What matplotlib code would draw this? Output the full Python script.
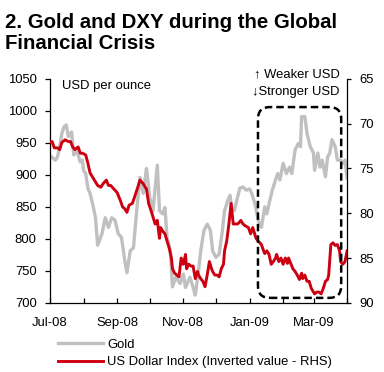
import matplotlib
matplotlib.use("Agg")
import matplotlib.pyplot as plt
import matplotlib.dates as mdates
from matplotlib.patches import FancyBboxPatch
import pandas as pd

plt.rcParams['font.family'] = ['Liberation Sans', 'DejaVu Sans']

start = pd.Timestamp('2008-07-01')

# Gold, USD per ounce (days since 1 Jul 2008, price)
gold_day = [0, 5, 7, 9, 11, 13, 15, 17, 18, 20, 22, 24, 26, 28, 30, 31, 33, 35, 37, 40,
            42, 44, 48, 51, 54, 57, 60, 63, 66, 69, 71, 74, 77, 80, 83, 86, 88, 89, 92, 95,
            99, 101, 104, 106, 108, 111, 113, 116, 120, 123, 125, 129, 132, 134, 137, 139,
            142, 145, 148, 150, 153, 156, 159, 161, 164, 166, 168, 170, 173, 175, 178, 181,
            184, 186, 189, 192, 195, 197, 198, 200, 202, 205, 208, 210, 212, 215, 218, 221,
            223, 226, 229, 231, 232, 235, 237, 240, 243, 244, 247, 249, 251, 254, 256, 258,
            260, 263, 265, 268, 270, 272, 274]
gold_px = [930, 923, 928, 944, 965, 975, 978, 960, 962, 967, 931, 939, 931, 920, 923, 907,
           902, 879, 871, 850, 833, 790, 808, 833, 818, 833, 829, 808, 802, 766, 747, 781,
           786, 844, 896, 871, 896, 910, 865, 844, 915, 844, 839, 849, 802, 781, 725, 740,
           730, 745, 724, 740, 724, 712, 750, 781, 813, 823, 813, 781, 771, 776, 813, 844,
           860, 868, 844, 844, 865, 879, 881, 876, 878, 871, 855, 829, 818, 839, 850, 839,
           855, 876, 892, 902, 892, 918, 902, 912, 902, 939, 949, 944, 991, 991, 965, 944,
           934, 907, 934, 912, 923, 897, 928, 934, 955, 944, 923, 923, 918, 923, 895]

# US Dollar Index, plotted on an inverted right axis
usd_day = [0, 2, 4, 7, 9, 11, 14, 17, 19, 21, 23, 26, 28, 30, 33, 35, 37, 40, 42, 44, 47,
           49, 52, 54, 56, 59, 62, 65, 67, 69, 71, 73, 76, 78, 81, 83, 86, 89, 91, 94, 97,
           99, 101, 102, 104, 106, 108, 110, 112, 113, 115, 117, 119, 121, 123, 125, 126,
           128, 130, 132, 134, 136, 137, 139, 141, 143, 145, 147, 149, 150, 152, 154, 156,
           158, 160, 161, 163, 165, 167, 169, 171, 173, 174, 176, 178, 180, 183, 185, 187,
           190, 192, 195, 197, 198, 200, 202, 204, 206, 208, 209, 211, 213, 215, 217, 219,
           220, 222, 224, 226, 228, 230, 232, 233, 235, 237, 239, 241, 243, 244, 246, 248,
           250, 252, 254, 256, 257, 259, 261, 263, 265, 267, 268, 270, 272, 274]
usd_idx = [72.1, 72.0, 72.7, 72.7, 72.9, 72.1, 71.8, 72.0, 72.0, 72.6, 72.9, 72.6, 73.3,
           73.3, 73.5, 74.4, 75.5, 76.1, 76.5, 76.9, 77.1, 76.7, 76.3, 76.9, 76.9, 77.3,
           77.7, 78.6, 79.3, 79.5, 79.9, 79.1, 78.9, 78.2, 77.1, 76.3, 76.7, 77.3, 78.9,
           80.0, 81.2, 80.8, 82.8, 81.6, 82.0, 82.3, 83.1, 83.9, 85.0, 86.2, 86.7, 86.9,
           87.1, 85.0, 85.7, 84.6, 86.2, 85.7, 85.9, 85.9, 87.3, 86.5, 86.9, 87.3, 87.6,
           88.2, 86.9, 85.4, 86.2, 86.5, 86.9, 86.9, 87.1, 86.2, 85.7, 84.2, 83.1, 81.2,
           78.9, 81.2, 81.2, 81.2, 81.1, 80.8, 81.2, 81.4, 81.6, 82.3, 81.6, 82.8, 83.1,
           83.5, 84.2, 84.5, 84.2, 84.6, 85.7, 85.4, 85.0, 84.6, 85.4, 85.0, 85.7, 85.0,
           85.6, 85.0, 85.6, 86.2, 86.5, 86.9, 87.4, 86.7, 87.3, 86.9, 87.6, 87.6, 88.4,
           88.8, 89.0, 88.8, 88.8, 89.0, 88.4, 87.6, 87.4, 86.9, 83.5, 83.3, 83.6, 83.5,
           84.2, 85.4, 85.7, 85.4, 84.2]

gold_dates = start + pd.to_timedelta(gold_day, unit='D')
usd_dates = start + pd.to_timedelta(usd_day, unit='D')

fs = 9.4
fig = plt.figure(figsize=(3.84, 3.72), dpi=100)
ax = fig.add_axes([0.130, 0.186, 0.774, 0.602])
ax2 = ax.twinx()

gold_line, = ax.plot(gold_dates, gold_px, color='#c0c0c0', lw=2.4, label='Gold')
usd_line, = ax2.plot(usd_dates, usd_idx, color='#cc0011', lw=2.1,
                     label='US Dollar Index (Inverted value - RHS)')

ax.set_ylim(700, 1050)
ax.set_yticks(range(700, 1051, 50))
ax2.set_ylim(90, 65)
ax2.set_yticks(range(65, 91, 5))
ax.set_xlim(pd.Timestamp('2008-07-01'), pd.Timestamp('2009-04-01'))

# monthly ticks, label every other month
ax.xaxis.set_major_locator(mdates.MonthLocator())
def month_fmt(x, pos):
    d = mdates.num2date(x)
    return d.strftime('%b-%y') if d.month % 2 == 1 else ''
ax.xaxis.set_major_formatter(plt.FuncFormatter(month_fmt))

for a in (ax, ax2):
    a.spines['top'].set_visible(False)
    for s in a.spines.values():
        s.set_linewidth(0.9)
ax.spines['right'].set_visible(False)
ax2.spines['left'].set_visible(False)
ax2.spines['bottom'].set_visible(False)

ax.tick_params(axis='y', direction='out', length=3.5, width=0.9, pad=6, labelsize=fs)
ax.tick_params(axis='x', direction='in', length=3.5, width=0.9, pad=10.5, labelsize=fs)
ax2.tick_params(axis='y', direction='out', length=3, width=0.9, pad=6, labelsize=fs)

ax.text(0.04, 0.968, 'USD per ounce', transform=ax.transAxes, fontsize=fs,
        ha='left', va='center')
ax.text(0.975, 1.02, '\u2191 Weaker USD', transform=ax.transAxes, fontsize=fs,
        ha='right', va='center', clip_on=False)
ax.text(0.975, 0.94, '\u2193Stronger USD', transform=ax.transAxes, fontsize=fs,
        ha='right', va='center', clip_on=False)

box = FancyBboxPatch((0.70, 0.022), 0.28, 0.852, transform=ax2.transAxes,
                     boxstyle='round,pad=0,rounding_size=0.04', mutation_aspect=1.33,
                     fill=False, ec='black', lw=1.8, ls=(0, (3, 1.6)), zorder=5)
ax2.add_patch(box)

fig.text(0.013, 0.965, '2. Gold and DXY during the Global\nFinancial Crisis',
         fontsize=14.7, fontweight='bold', ha='left', va='top', linespacing=1.15)

fig.legend([gold_line, usd_line], [gold_line.get_label(), usd_line.get_label()],
           loc='upper left', bbox_to_anchor=(0.15, 0.09), frameon=False,
           fontsize=fs, handlelength=3.5, handletextpad=0.3, labelspacing=0.42,
           borderpad=0, borderaxespad=0)

fig.savefig('out.png', dpi=100)
